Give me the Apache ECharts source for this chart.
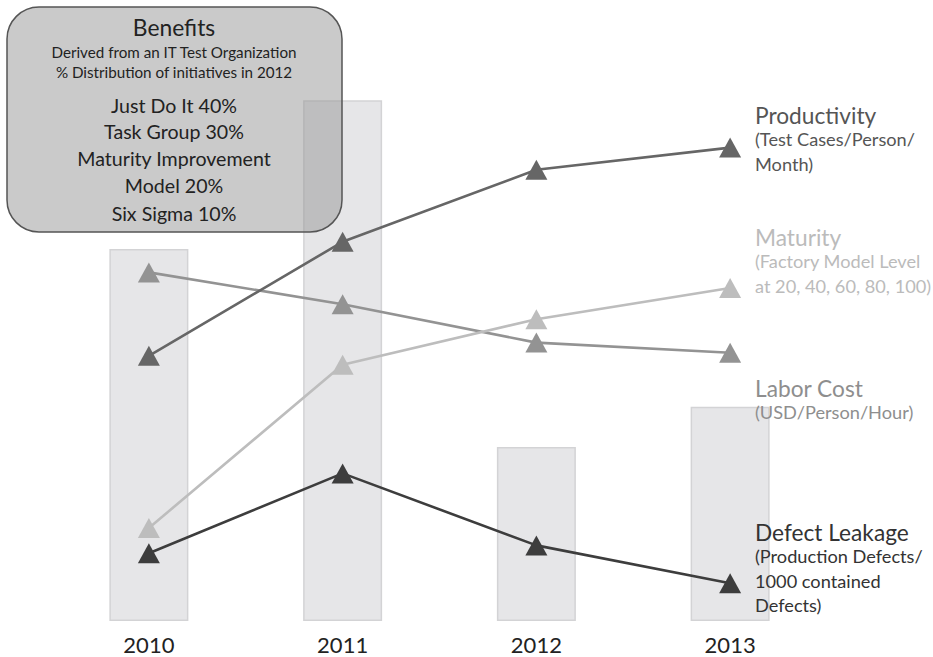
<!DOCTYPE html>
<html><head><meta charset="utf-8">
<script src="https://cdn.jsdelivr.net/npm/echarts@6/dist/echarts.min.js"></script>
<style>html,body{margin:0;padding:0;background:#fff}#c{width:933px;height:657px}</style>
</head><body><div id="c"></div>
<script>
var years = ['2010', '2011', '2012', '2013'];
var barValues = [62, 86.8, 29, 35.7];
var productivity = [44.2, 63.2, 75.2, 78.9];
var laborCost = [58.1, 52.8, 46.4, 44.7];
var maturity = [15.5, 42.7, 50.3, 55.5];
var defectLeakage = [11.3, 24.6, 12.6, 6.3];

var boxTitle = 'Benefits';
var boxSubLines = ['Derived from an IT Test Organization', '% Distribution of initiatives in 2012'];
var boxLines = ['Just Do It 40%', 'Task Group 30%', 'Maturity Improvement', 'Model 20%', 'Six Sigma 10%'];

var FONT = 'Lato';
var chart = echarts.init(document.getElementById('c'), null, {renderer: 'svg'});

function lineSeries(name, data, color) {
  return {
    name: name, type: 'line', data: data, z: 5,
    symbol: 'triangle', symbolSize: [22, 20], symbolKeepAspect: false,
    lineStyle: {color: color, width: 2.6},
    itemStyle: {color: color},
    animation: false
  };
}

function txt(x, y, text, size, color, align) {
  return {type: 'text', x: x, y: y, z: 100,
    style: {text: text, fontFamily: FONT, fontSize: size, fill: color,
      textAlign: align || 'left', textVerticalAlign: 'middle'}};
}

var graphics = [
  {type: 'rect', z: 50, shape: {x: 7, y: 7, width: 335, height: 225, r: 32},
   style: {fill: 'rgba(150,150,150,0.5)', stroke: '#555', lineWidth: 1.5}}
];
graphics.push(txt(174, 27, boxTitle, 22.8, '#222', 'center'));
var subY = [52, 72];
boxSubLines.forEach(function (t, i) { graphics.push(txt(174, subY[i], t, 15.2, '#222', 'center')); });
var lineY = [105, 131, 158, 185, 213];
boxLines.forEach(function (t, i) { graphics.push(txt(174, lineY[i], t, 19.6, '#222', 'center')); });

var rightLabels = [
  {title: 'Productivity', subs: ['(Test Cases/Person/', 'Month)'], y: 115, color: '#555'},
  {title: 'Maturity', subs: ['(Factory Model Level', 'at 20, 40, 60, 80, 100)'], y: 237, color: '#bbb'},
  {title: 'Labor Cost', subs: ['(USD/Person/Hour)'], y: 388, color: '#8e8e8e'},
  {title: 'Defect Leakage', subs: ['(Production Defects/', '1000 contained', 'Defects)'], y: 532, color: '#333'}
];
rightLabels.forEach(function (l) {
  graphics.push(txt(755, l.y, l.title, 22.7, l.color));
  l.subs.forEach(function (s, i) { graphics.push(txt(755, l.y + 24 + i * 24.5, s, 18.2, l.color)); });
});

chart.setOption({
  backgroundColor: '#fff',
  animation: false,
  grid: {left: 52, right: 106, top: 21, bottom: 36},
  xAxis: {
    type: 'category', data: years,
    axisLine: {show: false}, axisTick: {show: false},
    axisLabel: {fontFamily: FONT, fontSize: 22, color: '#222', margin: 12}
  },
  yAxis: {type: 'value', min: 0, max: 100, show: false, splitLine: {show: false}},
  series: [
    {name: 'Bars', type: 'bar', data: barValues, barWidth: 79, z: 1,
     itemStyle: {color: '#e6e6e8', borderColor: '#d3d3d5', borderWidth: 1.5}},
    lineSeries('Labor Cost', laborCost, '#939393'),
    lineSeries('Maturity', maturity, '#bdbdbd'),
    lineSeries('Productivity', productivity, '#666666'),
    lineSeries('Defect Leakage', defectLeakage, '#3d3d3d')
  ],
  graphic: graphics
});
</script>
</body></html>
